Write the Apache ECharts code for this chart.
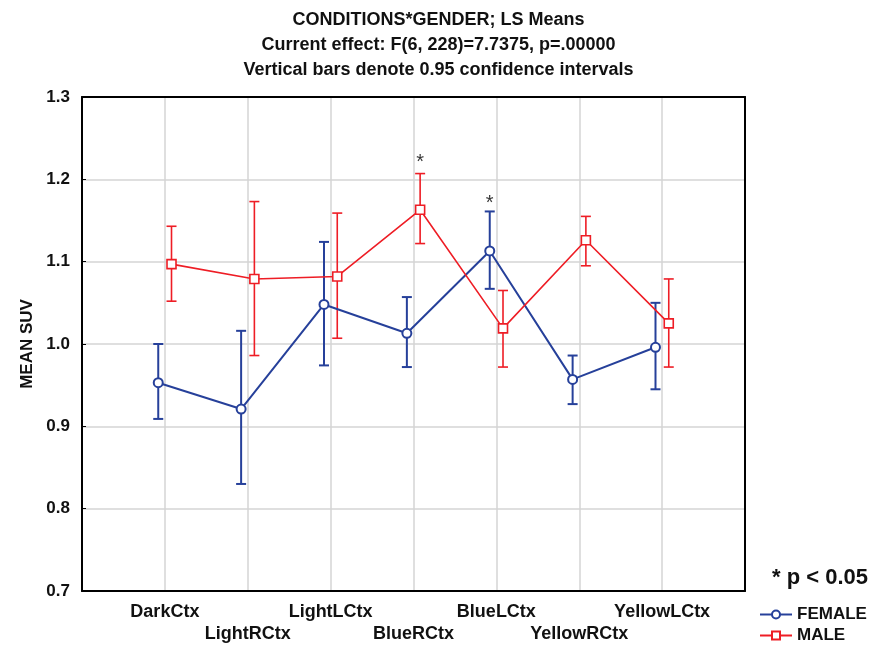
<!DOCTYPE html>
<html>
<head>
<meta charset="utf-8">
<script src="https://cdn.jsdelivr.net/npm/echarts/dist/echarts.min.js"></script>
<style>
  html, body { margin: 0; padding: 0; background: #fff; }
  #chart { width: 877px; height: 647px; }
</style>
</head>
<body>
<div id="chart"></div>
<script>
  // conditions on the x axis, in plot order
  var conditions = ['DarkCtx', 'LightRCtx', 'LightLCtx', 'BlueRCtx', 'BlueLCtx', 'YellowRCtx', 'YellowLCtx'];

  // LS means and 0.95 confidence limits
  var femaleMean = [0.953, 0.921, 1.048, 1.013, 1.113, 0.957, 0.996];
  var femaleLow  = [0.909, 0.830, 0.974, 0.972, 1.067, 0.927, 0.945];
  var femaleHigh = [1.000, 1.016, 1.124, 1.057, 1.161, 0.986, 1.050];

  var maleMean = [1.097, 1.079, 1.082, 1.163, 1.019, 1.126, 1.025];
  var maleLow  = [1.052, 0.986, 1.007, 1.122, 0.972, 1.095, 0.972];
  var maleHigh = [1.143, 1.173, 1.159, 1.207, 1.065, 1.155, 1.079];

  // significance stars: [condition index, gender, height]
  var stars = [[3, 'male', 1.221], [4, 'female', 1.171]];

  var yTicks = [0.7, 0.8, 0.9, 1.0, 1.1, 1.2, 1.3];

  var BLUE = '#26409a';
  var RED = '#ee1d25';
  var SHIFT = 0.08; // small horizontal dodge between the two groups

  function pos(i, g) {
    return i + 1 + (g === 'female' ? -SHIFT : SHIFT);
  }

  function meanData(mean, g) {
    return mean.map(function (v, i) { return [pos(i, g), v]; });
  }

  function ciData(low, high, g) {
    return low.map(function (v, i) { return [pos(i, g), v, high[i]]; });
  }

  function errorBars(color, width) {
    return function (params, api) {
      var x = api.value(0);
      var lo = api.coord([x, api.value(1)]);
      var hi = api.coord([x, api.value(2)]);
      var cap = 5;
      var st = { stroke: color, lineWidth: width };
      return {
        type: 'group',
        children: [
          { type: 'line', shape: { x1: lo[0], y1: lo[1], x2: hi[0], y2: hi[1] }, style: st },
          { type: 'line', shape: { x1: lo[0] - cap, y1: lo[1], x2: lo[0] + cap, y2: lo[1] }, style: st },
          { type: 'line', shape: { x1: hi[0] - cap, y1: hi[1], x2: hi[0] + cap, y2: hi[1] }, style: st }
        ]
      };
    };
  }

  var chart = echarts.init(document.getElementById('chart'));

  var font = 'Liberation Sans, Arial, sans-serif';
  var frame = { show: true, onZero: false, lineStyle: { color: '#000', width: 2 } };

  var options = {
    animation: false,
    backgroundColor: '#fff',
    textStyle: { fontFamily: font },
    title: [{
      text: 'CONDITIONS*GENDER; LS Means\nCurrent effect: F(6, 228)=7.7375, p=.00000\nVertical bars denote 0.95 confidence intervals',
      left: 'center',
      top: 3,
      textStyle: { fontFamily: font, fontSize: 18, fontWeight: 'bold', color: '#111', lineHeight: 25 }
    }, {
      text: '* p < 0.05',
      left: 767,
      top: 562,
      textStyle: { fontFamily: font, fontSize: 22, fontWeight: 'bold', color: '#111' }
    }],
    legend: {
      data: ['FEMALE', 'MALE'],
      orient: 'vertical',
      left: 759,
      top: 606,
      height: 44,
      itemWidth: 32,
      itemHeight: 10,
      itemGap: 4,
      padding: 0,
      textStyle: { fontFamily: font, fontSize: 17, fontWeight: 'bold', color: '#111' }
    },
    grid: {
      left: 82,
      right: 132,
      top: 97,
      bottom: 56
    },
    xAxis: [{
      type: 'value',
      min: 0,
      max: 8,
      interval: 1,
      axisLine: frame,
      axisTick: { show: false },
      splitLine: { show: true, lineStyle: { color: '#d4d4d4', width: 1.5 } },
      axisLabel: {
        margin: 10,
        lineHeight: 22,
        fontSize: 18,
        fontWeight: 'bold',
        color: '#111',
        formatter: function (v) {
          var i = Math.round(v) - 1;
          if (i < 0 || i >= conditions.length) return '';
          return (i % 2 === 0 ? '' : '\n') + conditions[i];
        }
      }
    }, {
      type: 'value',
      position: 'top',
      min: 0,
      max: 8,
      z: 5,
      axisLine: frame,
      axisTick: { show: false },
      axisLabel: { show: false },
      splitLine: { show: false }
    }],
    yAxis: [{
      type: 'value',
      min: 0.7,
      max: 1.3,
      interval: 0.1,
      name: 'MEAN SUV',
      nameLocation: 'middle',
      nameRotate: 90,
      nameGap: 44,
      nameTextStyle: { fontFamily: font, fontSize: 17, fontWeight: 'bold', color: '#111' },
      axisLine: frame,
      axisTick: { show: true, inside: true, length: 4, lineStyle: { color: '#000' } },
      splitLine: { show: true, lineStyle: { color: '#d4d4d4', width: 1.5 } },
      axisLabel: {
        margin: 12,
        fontSize: 17,
        fontWeight: 'bold',
        color: '#111',
        customValues: yTicks,
        formatter: function (v) { return v.toFixed(1); }
      }
    }, {
      type: 'value',
      position: 'right',
      min: 0.7,
      max: 1.3,
      z: 5,
      axisLine: frame,
      axisTick: { show: false },
      axisLabel: { show: false },
      splitLine: { show: false }
    }],
    series: [{
      name: 'FEMALE CI',
      type: 'custom',
      renderItem: errorBars(BLUE, 2),
      data: ciData(femaleLow, femaleHigh, 'female'),
      z: 2
    }, {
      name: 'MALE CI',
      type: 'custom',
      renderItem: errorBars(RED, 1.6),
      data: ciData(maleLow, maleHigh, 'male'),
      z: 2
    }, {
      name: 'FEMALE',
      type: 'line',
      data: meanData(femaleMean, 'female'),
      symbol: 'circle',
      symbolSize: 9,
      lineStyle: { color: BLUE, width: 2 },
      itemStyle: { color: '#fff', borderColor: BLUE, borderWidth: 2 },
      z: 3
    }, {
      name: 'MALE',
      type: 'line',
      data: meanData(maleMean, 'male'),
      symbol: 'rect',
      symbolSize: 9,
      lineStyle: { color: RED, width: 1.6 },
      itemStyle: { color: '#fff', borderColor: RED, borderWidth: 1.6 },
      z: 3
    }, {
      name: 'stars',
      type: 'scatter',
      symbolSize: 1,
      itemStyle: { color: 'rgba(0,0,0,0)' },
      label: {
        show: true,
        position: 'inside',
        formatter: '*',
        fontSize: 20,
        color: '#000'
      },
      data: stars.map(function (s) { return [pos(s[0], s[1]), s[2]]; }),
      z: 4
    }]
  };

  chart.setOption(options);
</script>
</body>
</html>
